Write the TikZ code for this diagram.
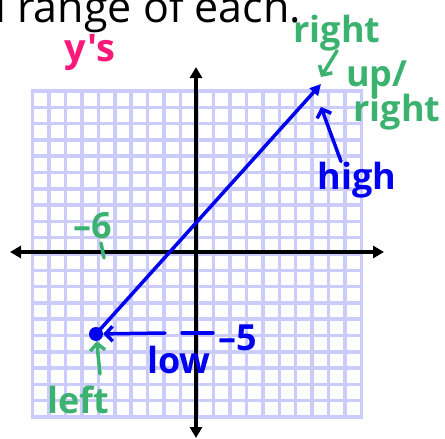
\documentclass[tikz,border=0pt]{standalone}
\usepackage{fontspec}
\setmainfont{Open Sans}
\newfontfamily\handfont{Open Sans}
\usetikzlibrary{arrows.meta, positioning}

\definecolor{gridblue}{RGB}{204,204,250}
\definecolor{penblue}{RGB}{0,0,240}
\definecolor{pengreen}{RGB}{60,178,112}
\definecolor{penpink}{RGB}{250,24,120}

\tikzset{
  gridline/.style={gridblue, line width=3.5pt, line cap=rect},
  axis/.style={line width=3.5pt, {Triangle[length=11pt,width=12pt]}-{Triangle[length=11pt,width=12pt]}},
  pen/.style={line width=3.5pt, line cap=round, line join=round},
  barb/.style={pen, -{Straight Barb[length=7pt,width=15pt]}},
  note/.style={font=\handfont\bfseries\fontsize{36}{38}\selectfont, inner sep=0pt, anchor=base},
}

\begin{document}
\begin{tikzpicture}[x=1pt, y=-1pt]
  \useasboundingbox (0,0) rectangle (445,439);

  % top line of the slide text
  \node[anchor=base west, font=\fontsize{43}{46}\selectfont, inner sep=0pt] (title) at (-5,22) {l range of each.};

  % graph paper
  \foreach \i in {-10,...,10} {
    \draw[gridline] (197+16.45*\i, 91) -- (197+16.45*\i, 417);
    \draw[gridline] (32.5, 254+16.3*\i) -- (361.5, 254+16.3*\i);
  }

  % axes
  \coordinate (xl) at (10,252);
  \coordinate (xr) at (384,252);
  \coordinate (yt) at (196,67);
  \coordinate (yb) at (196,438);
  \draw[axis] (xl) -- (xr);
  \draw[axis] (yt) -- (yb);

  % the ray
  \node[circle, fill=penblue, minimum size=14pt, inner sep=0pt] (low) at (96,334) {};
  \coordinate (top) at (321,84);
  \draw[penblue, line width=3.5pt, -{Triangle[length=11pt,width=11pt]}] (low.center) -- (top);

  % notes
  \node[note, text=penpink, font=\handfont\bfseries\fontsize{38}{40}\selectfont] (ys) at (90,61) {y's};

  \node[note, text=pengreen] (right1) at (337,42) {right};
  \coordinate (rtip) at (321,77);
  \draw[barb, pengreen] (right1.south) -- (rtip);
  \node[note, text=pengreen] (up) at (377,86) {up/};
  \node[note, text=pengreen] (right2) at (397,121) {right};

  \node[note, text=penblue] (high) at (357,189) {high};
  \coordinate (htip) at (321,107);
  \draw[barb, penblue] ([xshift=-16pt]high.north) -- (htip);

  \node[note, text=pengreen] (m6) at (93,238) {–6};
  \coordinate (m6a) at (101,243);
  \coordinate (m6b) at (104,258);
  \draw[pen, pengreen] (m6a) -- (m6b);

  \coordinate (m5a) at (182,333);
  \coordinate (m5b) at (213,333);
  \draw[pen, penblue] (m5a) -- (m5b);
  \node[note, text=penblue] (m5) at (238,350) {–5};
  \node[note, text=penblue] (lowtext) at (179,373) {low};
  \coordinate (lowstart) at (165,333);
  \draw[barb, penblue] (lowstart) -- (low);

  \node[note, text=pengreen] (left) at (78,413) {left};
  \coordinate (leftstart) at (100,374);
  \draw[barb, pengreen] (leftstart) -- (low);
\end{tikzpicture}
\end{document}
